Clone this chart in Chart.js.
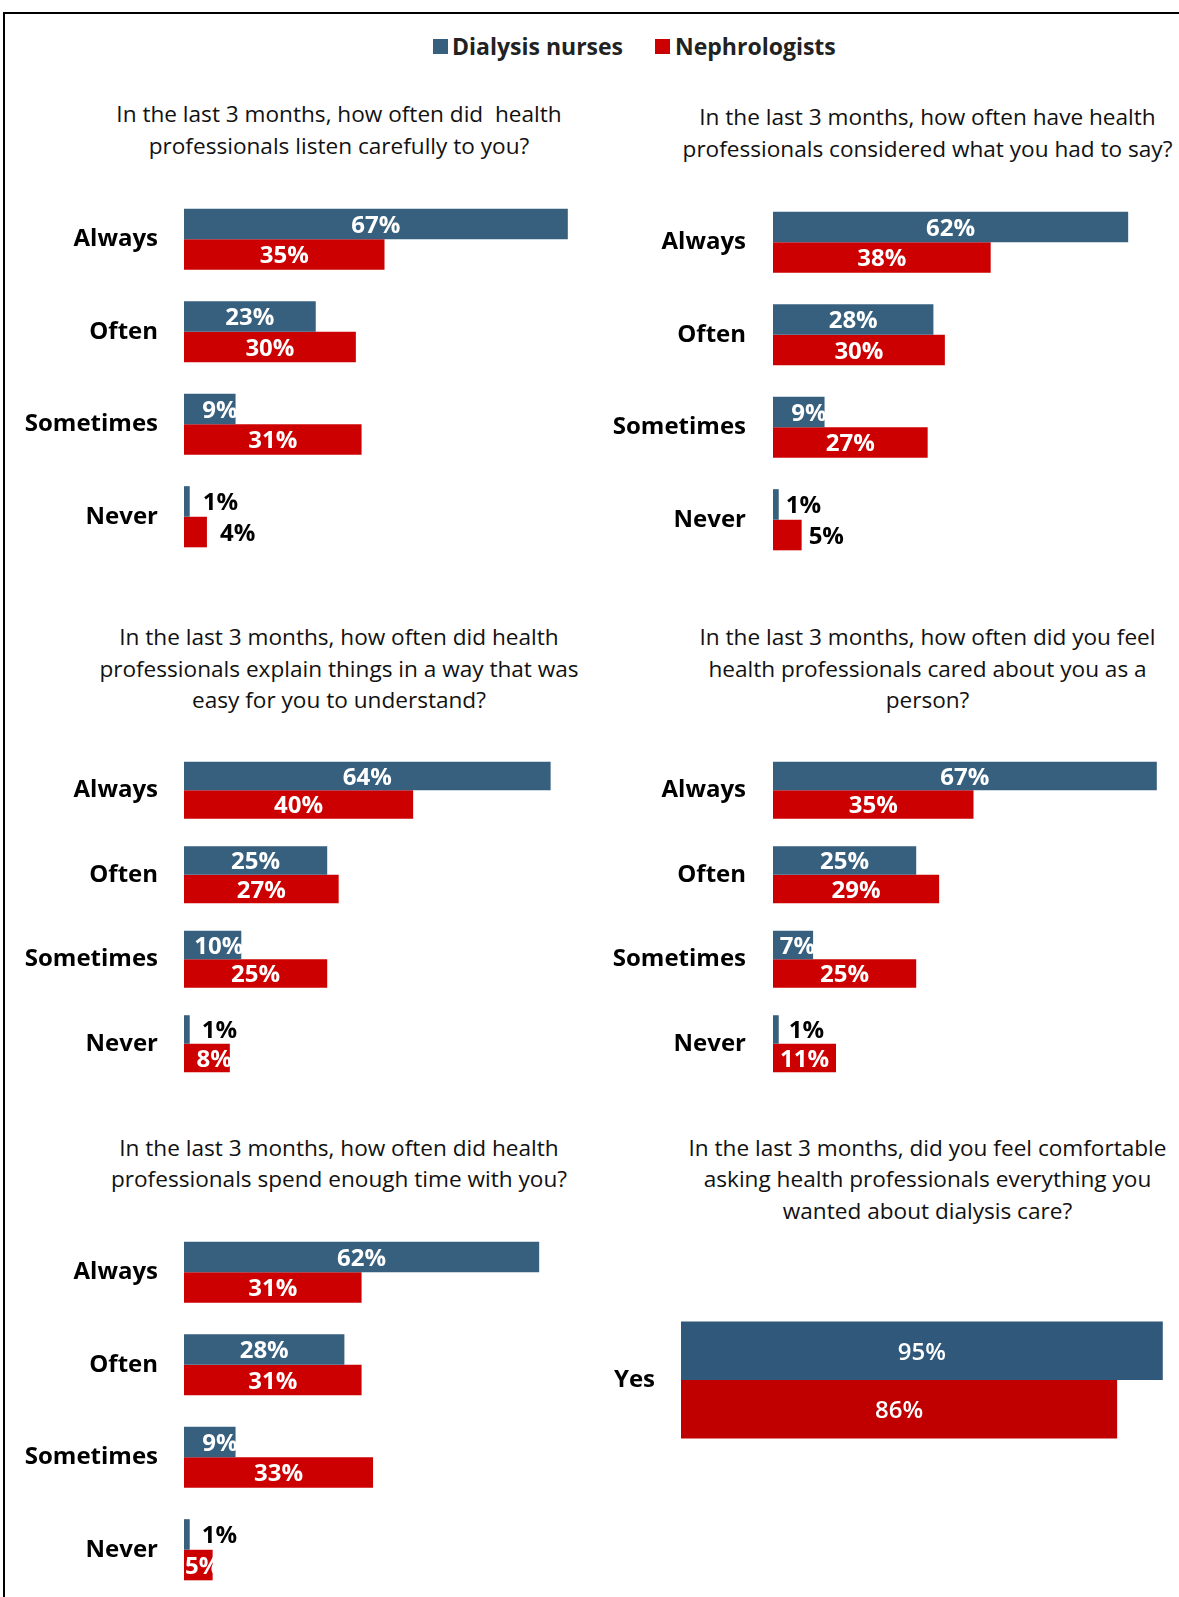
<!DOCTYPE html>
<html><head><meta charset="utf-8">
<script src="https://cdn.jsdelivr.net/npm/chart.js@4.4.0/dist/chart.umd.min.js"></script>
<style>
html,body{margin:0;padding:0;background:#fff;}
body{width:1179px;height:1597px;position:relative;overflow:hidden;font-family:'Open Sans',sans-serif;}
.frame{position:absolute;left:3px;top:12px;width:1300px;height:1700px;border-left:2px solid #000;border-top:2px solid #000;}
.title{position:absolute;width:700px;text-align:center;font-size:22.6px;line-height:31.5px;color:#111;white-space:pre;}
.legbox{position:absolute;width:15px;height:15px;}
.legtxt{position:absolute;font-weight:700;font-size:23px;line-height:30px;color:#222;white-space:nowrap;}
canvas{position:absolute;}
</style></head><body>
<div class="frame"></div>
<script>
// ---- data ----
const seriesNames = ['Dialysis nurses', 'Nephrologists'];
const categories = ['Always', 'Often', 'Sometimes', 'Never'];
const q1Nurses = [67, 23, 9, 1];
const q1Nephro = [35, 30, 31, 4];
const q2Nurses = [62, 28, 9, 1];
const q2Nephro = [38, 30, 27, 5];
const q3Nurses = [64, 25, 10, 1];
const q3Nephro = [40, 27, 25, 8];
const q4Nurses = [67, 25, 7, 1];
const q4Nephro = [35, 29, 25, 11];
const q5Nurses = [62, 28, 9, 1];
const q5Nephro = [31, 31, 33, 5];
const q6Categories = ['Yes'];
const q6Nurses = [95];
const q6Nephro = [86];
const q1Title = ['In the last 3 months, how often did  health', 'professionals listen carefully to you?'];
const q2Title = ['In the last 3 months, how often have health', 'professionals considered what you had to say?'];
const q3Title = ['In the last 3 months, how often did health', 'professionals explain things in a way that was', 'easy for you to understand?'];
const q4Title = ['In the last 3 months, how often did you feel', 'health professionals cared about you as a', 'person?'];
const q5Title = ['In the last 3 months, how often did health', 'professionals spend enough time with you?'];
const q6Title = ['In the last 3 months, did you feel comfortable', 'asking health professionals everything you', 'wanted about dialysis care?'];

// ---- styles / layout ----
const BLUE = '#37607F', RED = '#CC0000';
const BLUE6 = '#30587A', RED6 = '#C00000';

function addEl(cls, style, text){
  const d = document.createElement('div'); d.className = cls;
  Object.assign(d.style, style); if (text) d.textContent = text;
  document.body.appendChild(d); return d;
}
// legend (HTML)
addEl('legbox', {left:'433px', top:'39px', background:BLUE});
addEl('legtxt', {left:'452px', top:'31px'}, seriesNames[0]);
addEl('legbox', {left:'655px', top:'39px', background:RED});
addEl('legtxt', {left:'675px', top:'31px'}, seriesNames[1]);

function addTitle(lines, cx, top){
  addEl('title', {left:(cx-350)+'px', top:top+'px'}, lines.join('\n'));
}

const valueLabels = {
  id: 'valueLabels',
  afterDatasetsDraw(chart, args, opts) {
    const ctx = chart.ctx;
    ctx.save();
    ctx.font = opts.font;
    ctx.textBaseline = 'middle';
    chart.data.datasets.forEach((ds, di) => {
      const meta = chart.getDatasetMeta(di);
      meta.data.forEach((bar, i) => {
        const txt = ds.data[i] + '%';
        const tw = ctx.measureText(txt).width;
        const barW = bar.x - bar.base;
        const outside = (opts.outside || []).some(o => o[0] === di && o[1] === i);
        let x;
        if (outside) { ctx.textAlign = 'left'; x = bar.x + opts.gap; ctx.fillStyle = '#000'; }
        else if (tw > barW) { ctx.textAlign = 'left'; x = bar.base + 1; ctx.fillStyle = '#fff'; }
        else if (barW < 60) { ctx.textAlign = 'right'; x = bar.x + 2; ctx.fillStyle = '#fff'; }
        else { ctx.textAlign = 'center'; x = (bar.x + bar.base) / 2; ctx.fillStyle = '#fff'; }
        ctx.fillText(txt, x, bar.y + 2);
      });
    });
    ctx.restore();
  }
};

function makePanel(p) {
  const c = document.createElement('canvas');
  const yW = p.plotLeft - p.left;
  const w = Math.round(yW + p.xMax * p.pxPer);
  const h = Math.round(p.bottom - p.top);
  c.width = w; c.height = h;
  c.style.left = p.left + 'px'; c.style.top = Math.round(p.top) + 'px';
  c.style.width = w + 'px'; c.style.height = h + 'px';
  document.body.appendChild(c);
  new Chart(c, {
    type: 'bar',
    data: {
      labels: p.labels,
      datasets: [
        { label: seriesNames[0], data: p.a, backgroundColor: p.colors[0], borderWidth: 0,
          categoryPercentage: p.cp, barPercentage: 1 },
        { label: seriesNames[1], data: p.b, backgroundColor: p.colors[1], borderWidth: 0,
          categoryPercentage: p.cp, barPercentage: 1 }
      ]
    },
    options: {
      indexAxis: 'y',
      responsive: false,
      animation: false,
      events: [],
      layout: { padding: 0, autoPadding: false },
      plugins: {
        legend: { display: false },
        tooltip: { enabled: false },
        valueLabels: { font: p.valueFont, outside: p.outside, gap: p.gap || 11 }
      },
      scales: {
        x: { display: false, min: 0, max: p.xMax },
        y: {
          grid: { display: false, drawTicks: false },
          border: { display: false },
          ticks: { color: '#000', padding: p.tickPad, font: { family: 'Open Sans', weight: 'bold', size: 24 } },
          afterFit(scale) { scale.width = yW; scale.paddingTop = 0; scale.paddingBottom = 0; }
        }
      }
    },
    plugins: [valueLabels]
  });
}

const bold24 = 'bold 24px "Open Sans"';
const PX = 5.73;
addTitle(q1Title, 339, 98);
addTitle(q2Title, 927.5, 101);
addTitle(q3Title, 339, 621);
addTitle(q4Title, 927.5, 621);
addTitle(q5Title, 339, 1131.5);
addTitle(q6Title, 927.5, 1131.5);

makePanel({ labels: categories, a: q1Nurses, b: q1Nephro, left: 10, plotLeft: 184, top: 193, bottom: 563,
  pxPer: PX, xMax: 70, cp: 0.661, tickPad: 26, colors: [BLUE, RED], valueFont: bold24, outside: [[0,3],[1,3]], gap: 13 });
makePanel({ labels: categories, a: q2Nurses, b: q2Nephro, left: 600, plotLeft: 773, top: 196, bottom: 566,
  pxPer: PX, xMax: 70, cp: 0.661, tickPad: 27, colors: [BLUE, RED], valueFont: bold24, outside: [[0,3],[1,3]], gap: 7 });
makePanel({ labels: categories, a: q3Nurses, b: q3Nephro, left: 10, plotLeft: 184, top: 748, bottom: 1086,
  pxPer: PX, xMax: 70, cp: 0.675, tickPad: 26, colors: [BLUE, RED], valueFont: bold24, outside: [[0,3]], gap: 12 });
makePanel({ labels: categories, a: q4Nurses, b: q4Nephro, left: 600, plotLeft: 773, top: 748, bottom: 1086,
  pxPer: PX, xMax: 70, cp: 0.675, tickPad: 27, colors: [BLUE, RED], valueFont: bold24, outside: [[0,3]], gap: 10 });
makePanel({ labels: categories, a: q5Nurses, b: q5Nephro, left: 10, plotLeft: 184, top: 1226, bottom: 1596,
  pxPer: PX, xMax: 70, cp: 0.661, tickPad: 26, colors: [BLUE, RED], valueFont: bold24, outside: [[0,3]], gap: 12 });
makePanel({ labels: q6Categories, a: q6Nurses, b: q6Nephro, left: 560, plotLeft: 681, top: 1300, bottom: 1460,
  pxPer: 5.07, xMax: 98, cp: 0.731, tickPad: 26, colors: [BLUE6, RED6], valueFont: '600 24px "Open Sans"', outside: [] });
</script>
</body></html>
